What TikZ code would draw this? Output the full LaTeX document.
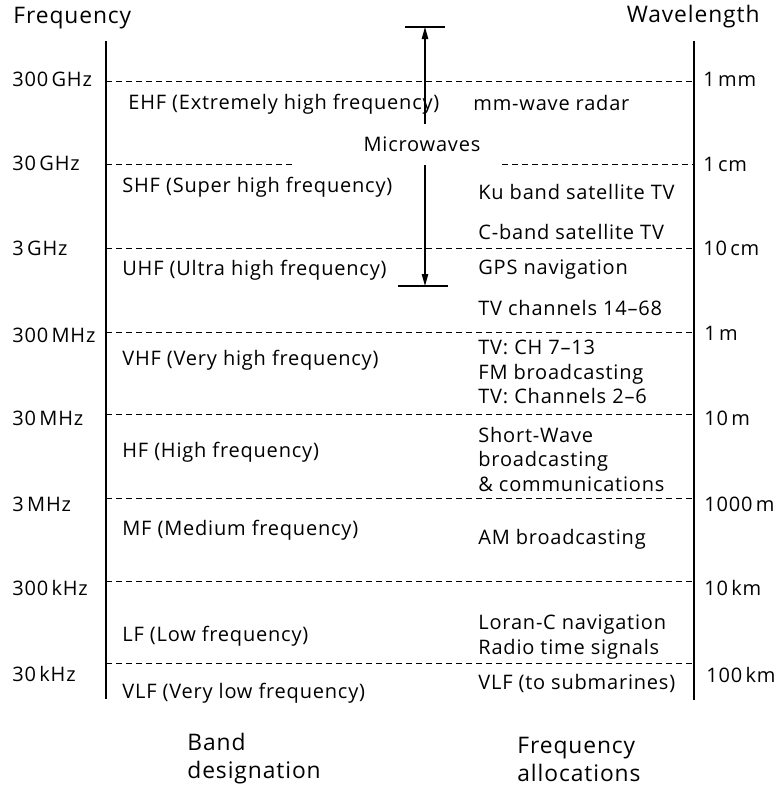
\documentclass[tikz,border=0pt]{standalone}
\usepackage{fontspec}
\setmainfont{Open Sans}[LetterSpace=4.0]
\usetikzlibrary{arrows.meta}
\begin{document}
\begin{tikzpicture}[x=0.5pt,y=-0.5pt,lbl/.style={anchor=west,inner sep=0pt,font=\fontsize{10}{12.25}\selectfont,align=left},head/.style={lbl,font=\fontsize{11.4}{14}\selectfont},band/.style={lbl},alloc/.style={lbl},level/.style={line width=0.5pt,dash pattern=on 3.2pt off 1.8pt},axis/.style={line width=0.7pt},bar/.style={line width=0.6pt}]
\useasboundingbox (0,0) rectangle (780,788);
\def\xl{106};
\def\xr{694};
\def\xb{122};
\def\xa{478};

\node[head] (freq) at (13,18) {Frequency};
\node[head,anchor=east] (wave) at (760,17) {Wavelength};

\coordinate (ftop) at (\xl,41);
\coordinate (fbot) at (\xl,699);
\coordinate (wtop) at (\xr,41);
\coordinate (wbot) at (\xr,700);
\draw[axis] (ftop) -- (fbot);
\draw[axis] (wtop) -- (wbot);

\foreach \y/\n in {81/a,248/c,332/d,414/e,498/f,581/g,663/h}{
  \coordinate (l\n) at (\xl,\y);
  \coordinate (r\n) at (\xr,\y);
  \draw[level] (l\n) -- (r\n);
}
\coordinate (lb) at (\xl,164);
\coordinate (lb2) at (293,164);
\coordinate (rb2) at (502,164);
\coordinate (rb) at (\xr,164);
\draw[level] (lb) -- (lb2);
\draw[level] (rb2) -- (rb);

\node[lbl] (fa) at (12,79) {300\,GHz};
\node[lbl] (fb) at (12,163) {30\,GHz};
\node[lbl] (fc) at (12,248) {3\,GHz};
\node[lbl] (fd) at (12,335) {300\,MHz};
\node[lbl] (fe) at (12,418) {30\,MHz};
\node[lbl] (ff) at (12,504) {3\,MHz};
\node[lbl] (fg) at (12,588) {300\,kHz};
\node[lbl] (fh) at (12,674) {30\,kHz};

\node[lbl] (wa) at (703,79) {1\,mm};
\node[lbl] (wb) at (703,164) {1\,cm};
\node[lbl] (wc) at (703,248) {10\,cm};
\node[lbl] (wd) at (704,333) {1\,m};
\node[lbl] (we) at (704,418) {10\,m};
\node[lbl] (wf) at (704,504) {1000\,m};
\node[lbl] (wg) at (704,588) {10\,km};
\node[lbl] (wh) at (706,675) {100\,km};

\node[band] (ehf) at (128,104) {EHF (Extremely high frequency)};
\node[band] (shf) at (\xb,187) {SHF (Super high frequency)};
\node[band] (uhf) at (\xb,270) {UHF (Ultra high frequency)};
\node[band] (vhf) at (\xb,360) {VHF (Very high frequency)};
\node[band] (hf) at (\xb,452) {HF (High frequency)};
\node[band] (mf) at (\xb,530) {MF (Medium frequency)};
\node[band] (lf) at (\xb,636) {LF (Low frequency)};
\node[band] (vlf) at (\xb,693) {VLF (Very low frequency)};

\node[alloc] (radar) at (473,103) {mm-wave radar};
\node[alloc] (ku) at (\xa,192) {Ku band satellite TV};
\node[alloc] (cband) at (\xa,232) {C-band satellite TV};
\node[alloc] (gps) at (\xa,270) {GPS navigation};
\node[alloc] (uhftv) at (\xa,308) {TV channels 14--68};
\node[alloc] (vhftv) at (\xa,372) {TV: CH 7--13\\FM broadcasting\\TV: Channels 2--6};
\node[alloc] (sw) at (\xa,459) {Short-Wave\\broadcasting\\\& communications};
\node[alloc] (am) at (\xa,539) {AM broadcasting};
\node[alloc] (loran) at (\xa,637) {Loran-C navigation\\Radio time signals};
\node[alloc] (sub) at (\xa,683) {VLF (to submarines)};

\node[lbl,anchor=center,minimum height=20.5pt] (mw) at (422,144.5) {Microwaves};
\coordinate (mtop) at (425,27);
\coordinate (mbot) at (425,286);
\coordinate (tl) at (405,27);
\coordinate (tr) at (445,27);
\coordinate (bl) at (398,286);
\coordinate (br) at (448,286);
\draw[bar] (tl) -- (tr);
\draw[bar] (bl) -- (br);
\draw[bar,-{Triangle[length=6pt,width=3.2pt]}] (mw.north -| mtop) -- (mtop);
\draw[bar,-{Triangle[length=6pt,width=3.2pt]}] (mw.south -| mbot) -- (mbot);

\node[head] (bd) at (187,759) {Band\\designation};
\node[head] (fa2) at (517,759) {Frequency\\allocations};
\end{tikzpicture}
\end{document}
